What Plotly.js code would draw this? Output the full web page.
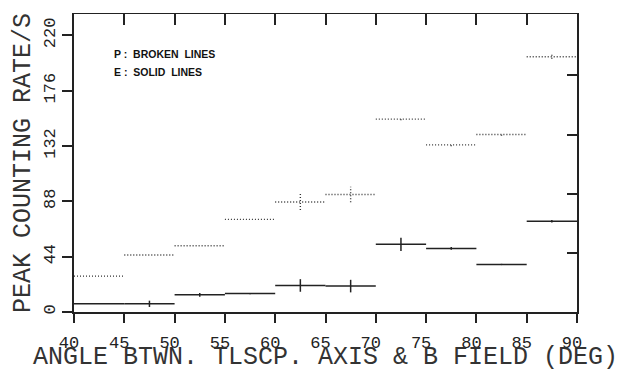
<!DOCTYPE html>
<html>
<head>
<meta charset="utf-8">
<script src="https://cdn.plot.ly/plotly-3.0.1.min.js"></script>
<style>html,body{margin:0;padding:0;background:#fff;}#chart{width:617px;height:372px;}</style>
</head>
<body>
<div id="chart"></div>
<script>
// bins of the angle between telescope axis and B field (deg)
const binLo = [40, 45, 50, 55, 60, 65, 70, 75, 80, 85];
const binHi = [45, 50, 55, 60, 65, 70, 75, 80, 85, 90];
const binCenter = [42.5, 47.5, 52.5, 57.5, 62.5, 67.5, 72.5, 77.5, 82.5, 87.5];
// P : broken lines
const pRate = [28.5, 45.3, 52.7, 73.7, 87.5, 93.4, 153.4, 132.9, 141.2, 203];
const pErr  = [0, 0, 0, 0, 6.4, 6.2, 1, 1, 1, 1.5];
// E : solid lines
const eRate = [6.5, 6.5, 13.7, 14.7, 21.1, 20.6, 53.8, 50.6, 37.8, 72.1];
const eErr  = [0, 2.5, 1.5, 0.5, 5, 5, 5.3, 1, 0.5, 1];
const xTicks = [40, 45, 50, 55, 60, 65, 70, 75, 80, 85, 90];
const yTicks = [0, 44, 88, 132, 176, 220];

function segs(rates) {
  const x = [], y = [];
  for (let i = 0; i < binLo.length; i++) {
    x.push(binLo[i], binHi[i], null);
    y.push(rates[i], rates[i], null);
  }
  return {x, y};
}
function bars(rates, errs) {
  const x = [], y = [];
  for (let i = 0; i < binCenter.length; i++) {
    if (errs[i] > 0) {
      x.push(binCenter[i], binCenter[i], null);
      y.push(rates[i] - errs[i], rates[i] + errs[i], null);
    }
  }
  return {x, y};
}
const pS = segs(pRate), pB = bars(pRate, pErr);
const eS = segs(eRate), eB = bars(eRate, eErr);

const traces = [
  {x: pS.x, y: pS.y, mode: 'lines', line: {color: '#333', width: 1.4, dash: '1px,2px'}, connectgaps: false, hoverinfo: 'skip'},
  {x: pB.x, y: pB.y, mode: 'lines', line: {color: '#333', width: 1.4, dash: '1px,2px'}, connectgaps: false, hoverinfo: 'skip'},
  {x: eS.x, y: eS.y, mode: 'lines', line: {color: '#222', width: 1.5}, connectgaps: false, hoverinfo: 'skip'},
  {x: eB.x, y: eB.y, mode: 'lines', line: {color: '#222', width: 1.5}, connectgaps: false, hoverinfo: 'skip'},
  {x: [40], y: [0], xaxis: 'x2', yaxis: 'y2', mode: 'none', hoverinfo: 'skip'},
  {x: [40], y: [0], xaxis: 'x3', yaxis: 'y', mode: 'none', hoverinfo: 'skip'}
];

const mono = 'Liberation Mono, DejaVu Sans Mono, monospace';
const layout = {
  width: 617, height: 372,
  margin: {l: 74, r: 40, t: 14, b: 60},
  paper_bgcolor: '#fff', plot_bgcolor: '#fff',
  showlegend: false,
  xaxis: {
    range: [40, 90], tickvals: xTicks,
    ticks: 'outside', ticklen: 9, tickwidth: 2, tickcolor: '#222', showticklabels: false,
    showline: true, linecolor: '#222', linewidth: 2,
    showgrid: false, zeroline: false
  },
  xaxis3: {
    overlaying: 'x', side: 'bottom', anchor: 'y', range: [40, 90],
    tickvals: xTicks, ticktext: xTicks.map(String),
    ticks: 'outside', ticklen: 15, tickwidth: 0, tickcolor: 'rgba(0,0,0,0)', ticklabelshift: -5,
    showline: false, showgrid: false, zeroline: false,
    tickfont: {family: mono, size: 17, color: '#222'},
    title: {text: 'ANGLE BTWN. TLSCP. AXIS & B FIELD (DEG)', font: {family: mono, size: 25, color: '#333'}, standoff: 0}
  },
  yaxis: {
    range: [0, 237], tickvals: yTicks, ticktext: yTicks.map(String),
    ticks: 'outside', ticklen: 10, tickwidth: 2, tickcolor: '#222', tickangle: -90,
    showline: true, linecolor: '#222', linewidth: 2,
    showgrid: false, zeroline: false,
    tickfont: {family: mono, size: 17, color: '#222'},
    title: {text: 'PEAK COUNTING RATE/S', font: {family: mono, size: 25, color: '#333'}, standoff: 3}
  },
  xaxis2: {
    overlaying: 'x', side: 'top', range: [40, 90], tickvals: [45, 50, 55, 60, 65, 70, 75, 80, 85],
    ticks: 'inside', ticklen: 11, tickwidth: 2, tickcolor: '#222', showticklabels: false,
    showline: true, linecolor: '#222', linewidth: 1.5, showgrid: false, zeroline: false
  },
  yaxis2: {
    overlaying: 'y', side: 'right', range: [0, 5.04], tickvals: [1, 2, 3, 4],
    ticks: 'inside', ticklen: 10, tickwidth: 2, tickcolor: '#222', showticklabels: false,
    showline: true, linecolor: '#222', linewidth: 2, showgrid: false, zeroline: false
  },
  shapes: [
    {type: 'line', xref: 'paper', yref: 'y', x0: -0.022, x1: 0, y0: 0, y1: 0, line: {color: '#222', width: 2}}
  ],
  annotations: [
    {xref: 'paper', yref: 'paper', x: 0.075, y: 0.865, xanchor: 'left', yanchor: 'middle', showarrow: false,
     text: '<b>P :  BROKEN  LINES</b>', font: {family: 'Liberation Sans, Arial, sans-serif', size: 10.5, color: '#111'}},
    {xref: 'paper', yref: 'paper', x: 0.075, y: 0.805, xanchor: 'left', yanchor: 'middle', showarrow: false,
     text: '<b>E :  SOLID  LINES</b>', font: {family: 'Liberation Sans, Arial, sans-serif', size: 10.5, color: '#111'}}
  ]
};
Plotly.newPlot('chart', traces, layout, {displayModeBar: false, staticPlot: true});
</script>
</body>
</html>
